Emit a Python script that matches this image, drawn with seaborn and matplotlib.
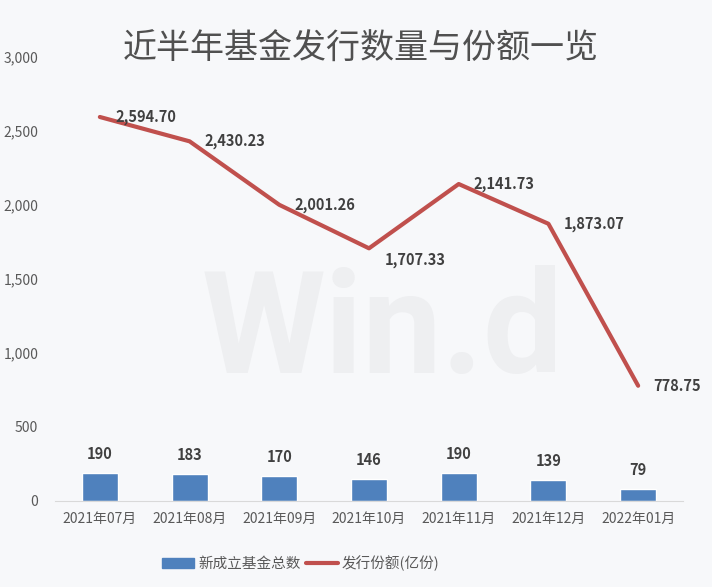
import numpy as np
import pandas as pd
import matplotlib
matplotlib.use("Agg")
import matplotlib.pyplot as plt
import seaborn as sns
from matplotlib.lines import Line2D
from matplotlib.patches import Patch

# data
months = ["2021年07月", "2021年08月", "2021年09月", "2021年10月",
          "2021年11月", "2021年12月", "2022年01月"]
fund_counts = [190, 183, 170, 146, 190, 139, 79]
issue_shares = [2594.70, 2430.23, 2001.26, 1707.33, 2141.73, 1873.07, 778.75]
y_ticks = [0, 500, 1000, 1500, 2000, 2500, 3000]

bar_color = "#4F81BD"
line_color = "#C0504D"
bg = "#F7F8FA"
text_gray = "#595959"

sns.set_style("white")
plt.rcParams["font.family"] = ["Noto Sans CJK SC", "DejaVu Sans"]

df = pd.DataFrame({"month": months, "count": fund_counts, "share": issue_shares})

fig = plt.figure(figsize=(7.12, 5.87), dpi=100, facecolor=bg)
ax = fig.add_axes([55 / 712, 86 / 587, 628 / 712, 444 / 587])
ax.set_facecolor(bg)

# watermark, behind the marks
ax.text(383 / 712, 1 - 373 / 587, "Win.d", transform=fig.transFigure,
        fontsize=102, fontweight="bold", color="#EEEFF1", ha="center",
        va="baseline", family="Roboto", zorder=0.5)

sns.barplot(data=df, x="month", y="count", color=bar_color, width=0.4,
            saturation=1, ax=ax, zorder=2)
sns.lineplot(data=df, x="month", y="share", color=line_color, linewidth=3,
             sort=False, ax=ax, zorder=3)

# value labels
for i, v in enumerate(fund_counts):
    ax.text(i, v + 75, f"{v}", ha="center", va="bottom", fontsize=10.5,
            fontweight="bold", color="#404040", zorder=4)
share_dy = [0, 0, 0, -80, 0, 0, 0]
for i, v in enumerate(issue_shares):
    ax.text(i + 0.17, v + share_dy[i], f"{v:,.2f}", ha="left", va="center",
            fontsize=10.5, fontweight="bold", color="#404040", zorder=4)

ax.set_ylim(0, 3000)
ax.set_xlim(-0.5, 6.5)
ax.set_yticks(y_ticks)
ax.set_yticklabels([f"{t:,}" for t in y_ticks])
ax.set_xlabel("")
ax.set_ylabel("")
ax.tick_params(axis="both", length=0, labelsize=10, labelcolor=text_gray)
ax.tick_params(axis="y", pad=12)
ax.tick_params(axis="x", pad=8)
for s in ["top", "right", "left"]:
    ax.spines[s].set_visible(False)
ax.spines["bottom"].set_color("#D9D9D9")

fig.text(361 / 712, 1 - 49 / 587, "近半年基金发行数量与份额一览", ha="center",
         va="center", fontsize=24.5, color="#505050")

handles = [Patch(facecolor=bar_color, edgecolor=bar_color),
           Line2D([0], [0], color=line_color, linewidth=3)]
fig.legend(handles, ["新成立基金总数", "发行份额(亿份)"], loc="center",
           bbox_to_anchor=(301 / 712, 1 - 563 / 587), ncol=2, frameon=False,
           fontsize=10.5, labelcolor=text_gray, handlelength=2.2,
           handletextpad=0.3, columnspacing=0.3)

fig.savefig("out.png", dpi=100, facecolor=bg)
